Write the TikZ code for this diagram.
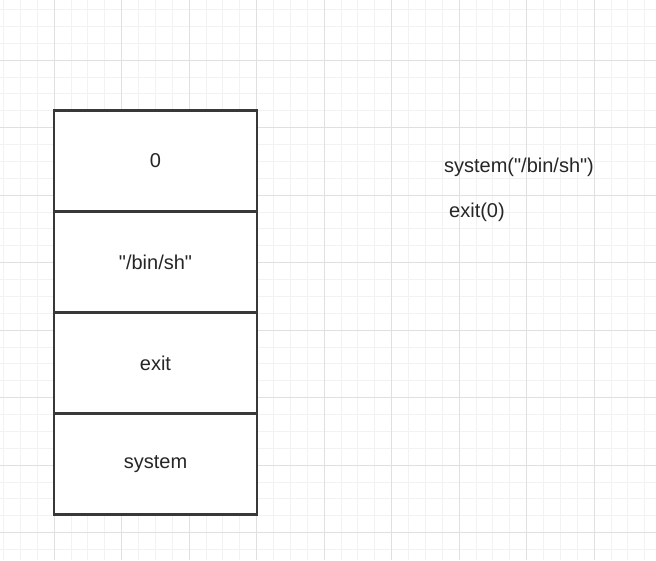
\documentclass[tikz,border=0pt]{standalone}
\usepackage{fontspec}
\setmainfont{Liberation Sans}[Ligatures=TeXOff]
\usetikzlibrary{positioning}

\begin{document}
\begin{tikzpicture}[x=1pt, y=-1pt,
cell/.style = {shape=rectangle, draw=black!78, line width=2.4pt, fill=white,
	minimum width=203pt, minimum height=101pt, inner sep=0pt, outer sep=0pt,
	font=\fontsize{20}{24}\selectfont, text=black!85},
call/.style = {inner sep=1pt, font=\fontsize{20}{24}\selectfont, text=black!85}]
\useasboundingbox (0,0) rectangle (656,560);
% grid
\foreach \x in {0,...,39} \draw[black!5, line width=0.6pt] (3.375+16.875*\x,0) -- ++(0,560);
\foreach \y in {0,...,33} \draw[black!5, line width=0.6pt] (0,9.375+16.875*\y) -- ++(656,0);
\foreach \x in {-1,...,9} \draw[black!12, line width=0.8pt] (54+67.5*\x,0) -- ++(0,560);
\foreach \y in {-1,...,7} \draw[black!12, line width=0.8pt] (0,60+67.5*\y) -- ++(656,0);
% stack
\node[cell] (zero) at (155.5,161) {0};
\node[cell, below=0pt of zero] (binsh) {"/bin/sh"};
\node[cell, below=0pt of binsh] (exit) {exit};
\node[cell, below=0pt of exit] (system) {system};
% calls
\node[call] (callsys) at (519,167) {system("/bin/sh")};
\node[call, anchor=west] (callexit) at (448,212) {exit(0)};
\end{tikzpicture}
\end{document}
